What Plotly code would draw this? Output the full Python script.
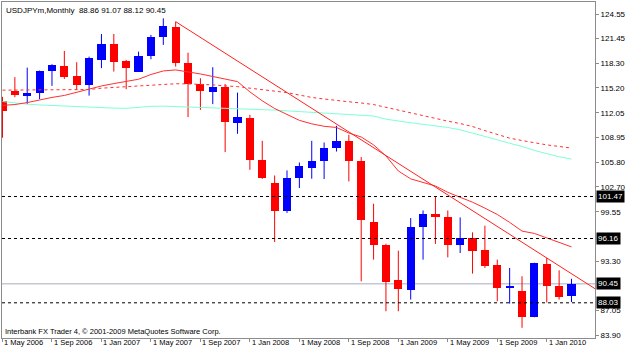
import plotly.graph_objects as go
import pandas as pd

# ---------------- data ----------------
months = pd.date_range("2006-05-01", periods=47, freq="MS")

opens = [113.57, 114.87, 114.20, 114.53, 117.35, 118.00, 116.72, 115.59, 118.74, 120.72,
         118.62, 117.27, 119.28, 121.61, 122.95, 118.40, 115.71, 114.66, 115.30, 110.75,
         111.38, 106.12, 103.17, 99.59, 103.80, 105.14, 105.90, 107.59, 108.43, 105.99,
         98.20, 95.38, 90.87, 89.61, 97.57, 99.30, 98.88, 95.38, 96.23, 94.75,
         92.86, 89.95, 89.49, 86.26, 92.95, 90.21, 88.86]
highs = [114.07, 116.56, 117.77, 117.40, 118.20, 119.88, 118.45, 119.16, 122.02, 122.02,
         118.74, 119.79, 121.90, 124.00, 123.58, 119.66, 116.43, 117.82, 115.71, 114.61,
         111.80, 108.51, 104.13, 104.77, 105.78, 108.51, 108.30, 110.41, 109.27, 106.46,
         100.56, 95.50, 94.62, 98.75, 99.71, 101.41, 99.71, 98.83, 96.94, 97.78,
         93.49, 92.44, 91.38, 93.10, 93.70, 92.14, 91.07]
lows = [108.90, 114.03, 113.15, 113.78, 115.46, 116.34, 114.95, 114.23, 117.70, 117.27,
        115.04, 117.27, 118.83, 120.64, 117.90, 111.51, 112.43, 113.15, 107.09, 109.40,
        104.85, 103.70, 95.72, 99.40, 102.54, 103.72, 103.68, 107.16, 103.38, 90.75,
        93.49, 86.96, 86.96, 88.44, 93.49, 95.48, 93.78, 94.33, 91.72, 92.44,
        88.22, 87.93, 84.87, 86.20, 88.07, 88.44, 88.12]
closes = [112.30, 114.32, 114.53, 117.35, 118.11, 116.63, 115.59, 118.96, 120.72, 118.53,
          117.69, 119.28, 121.68, 123.03, 118.40, 115.71, 114.83, 115.30, 110.95, 111.58,
          106.12, 103.80, 99.67, 103.80, 105.36, 105.99, 107.59, 108.43, 105.90, 98.45,
          95.30, 90.62, 89.79, 97.62, 99.26, 98.83, 95.38, 96.23, 94.54, 92.73,
          89.92, 90.10, 86.26, 93.07, 90.12, 88.73, 90.45]

ma_fast = [113.00, 113.10, 113.35, 113.70, 114.00, 114.25, 114.65, 115.00, 115.45, 115.75,
           116.00, 116.30, 116.90, 117.35, 117.48, 117.27, 116.97, 116.65, 116.30, 116.00,
           114.70, 113.57, 112.60, 111.80, 111.10, 110.66, 110.35, 110.20, 109.50, 109.00,
           108.00, 106.60, 104.70, 103.70, 103.25, 102.80, 102.00, 101.40, 100.75, 100.00,
           99.20, 98.20, 97.10, 96.80, 96.20, 95.60, 95.10]
ma_dashed = [114.92, 114.92, 114.92, 114.92, 114.92, 114.92, 114.92, 115.00, 115.17, 115.27,
             115.37, 115.48, 115.59, 115.71, 115.73, 115.71, 115.66, 115.59, 115.46, 115.37,
             115.17, 115.00, 114.87, 114.61, 114.30, 114.00, 113.80, 113.60, 113.45, 113.30,
             113.10, 112.75, 112.40, 112.00, 111.70, 111.30, 111.00, 110.70, 110.32, 109.80,
             109.30, 108.85, 108.55, 108.25, 108.00, 107.80, 107.59]
ma_aqua = [113.48, 113.30, 113.15, 113.05, 112.97, 112.90, 112.80, 112.75, 112.70, 112.65,
           112.62, 112.75, 112.87, 112.90, 112.85, 112.80, 112.75, 112.65, 112.60, 112.55,
           112.50, 112.45, 112.40, 112.30, 112.20, 112.12, 112.05, 111.95, 111.85, 111.75,
           111.65, 111.25, 111.00, 110.80, 110.60, 110.40, 110.20, 109.90, 109.50, 109.10,
           108.65, 108.20, 107.80, 107.30, 106.90, 106.50, 106.20]

trend_bars = [14, 44]
trend_prices = [123.58, 93.70]

levels_dotted = [101.47, 96.16, 88.03]
bid_level = 90.45

ytick_vals = [124.55, 121.45, 118.30, 115.20, 112.05, 108.95, 105.80, 102.70, 99.55, 93.30, 87.05, 83.90]

title_text = "USDJPYm,Monthly  88.86 91.07 88.12 90.45"
footer_text = "Interbank FX Trader 4, \u00a9 2001-2009 MetaQuotes Software Corp."

# ---------------- figure ----------------
n = len(closes)
idx = list(range(n))
X0, X1 = -0.04, 47.9
Y0, Y1 = 83.58, 126.067

RED = "#ff0000"
BLUE = "#0000ff"
FONT = "Liberation Sans"

fig = go.Figure()

# wicks
for color, cond in ((RED, lambda o, c: c < o), (BLUE, lambda o, c: c >= o)):
    wx, wy = [], []
    for i in idx:
        if cond(opens[i], closes[i]):
            wx += [i, i, None]
            wy += [lows[i], highs[i], None]
    fig.add_trace(go.Scatter(x=wx, y=wy, mode="lines", line=dict(color=color, width=1),
                             hoverinfo="skip", showlegend=False))

# bodies
for color, cond in ((RED, lambda o, c: c < o), (BLUE, lambda o, c: c >= o)):
    bx, bb, bh = [], [], []
    for i in idx:
        if cond(opens[i], closes[i]):
            lo, hi = min(opens[i], closes[i]), max(opens[i], closes[i])
            bx.append(i)
            bb.append(lo)
            bh.append(max(hi - lo, 0.12))
    fig.add_trace(go.Bar(x=bx, y=bh, base=bb, width=0.66, marker=dict(color=color, line=dict(width=0)),
                         hoverinfo="skip", showlegend=False))

# moving averages
fig.add_trace(go.Scatter(x=idx, y=ma_aqua, mode="lines", line=dict(color="#7fffd4", width=1),
                         hoverinfo="skip", showlegend=False))
fig.add_trace(go.Scatter(x=idx, y=ma_dashed, mode="lines",
                         line=dict(color="#ff3030", width=1, dash="3px,3px"),
                         hoverinfo="skip", showlegend=False))
fig.add_trace(go.Scatter(x=idx, y=ma_fast, mode="lines", line=dict(color="#ff3030", width=1),
                         hoverinfo="skip", showlegend=False))

# trend line (ray from first anchor through second to the right edge)
slope = (trend_prices[1] - trend_prices[0]) / (trend_bars[1] - trend_bars[0])
t_end = trend_prices[1] + slope * (X1 - trend_bars[1])
fig.add_trace(go.Scatter(x=[trend_bars[0], trend_bars[1], X1], y=[trend_prices[0], trend_prices[1], t_end],
                         mode="lines", line=dict(color="#ff2020", width=1),
                         hoverinfo="skip", showlegend=False, cliponaxis=True))

# horizontal levels
fig.add_hline(y=bid_level, line=dict(color="#c4c8d4", width=1.5), layer="below")
for lv in levels_dotted:
    fig.add_hline(y=lv, line=dict(color="#000000", width=1, dash="3px,3px"))

# level labels (black boxes)
for lv in levels_dotted + [bid_level]:
    fig.add_annotation(x=1, xref="paper", y=lv, yref="y", xanchor="left", xshift=1,
                       text=f"{lv:.2f}", showarrow=False, bgcolor="#000000",
                       font=dict(color="#ffffff", size=8, family=FONT), borderpad=1)

# title and footer
fig.add_annotation(x=0, xref="paper", y=1, yref="paper", xanchor="left", yanchor="top",
                   xshift=2, yshift=-2, text=title_text, showarrow=False,
                   font=dict(color="#000000", size=8, family=FONT))
fig.add_annotation(x=0, xref="paper", y=0, yref="paper", xanchor="left", yanchor="bottom",
                   xshift=1, yshift=0, text=footer_text, showarrow=False,
                   font=dict(color="#000000", size=7.5, family=FONT))

# date labels, left-aligned just right of each tick
tick_idx = list(range(0, n, 4))
tick_txt = [f"1 {months[i]:%b %Y}" for i in tick_idx]
for ti, tt in zip(tick_idx, tick_txt):
    fig.add_annotation(x=ti, xref="x", y=0, yref="paper", xanchor="left", yanchor="top",
                       xshift=1, yshift=1, text=tt, showarrow=False, borderpad=0,
                       font=dict(color="#000000", size=7.5, family=FONT))

fig.update_layout(
    width=625, height=350,
    margin=dict(l=2, r=30, t=2, b=12),
    paper_bgcolor="#ffffff", plot_bgcolor="#ffffff",
    barmode="overlay", bargap=0,
    showlegend=False,
    font=dict(family=FONT, size=8, color="#000000"),
    xaxis=dict(range=[X0, X1], showgrid=False, zeroline=False, automargin=False,
               showline=True, linecolor="#8c8c8c", linewidth=1, mirror=True,
               tickmode="array", tickvals=tick_idx, showticklabels=False,
               ticks="outside", ticklen=3, tickcolor="#8c8c8c"),
    yaxis=dict(range=[Y0, Y1], side="right", showgrid=False, zeroline=False, automargin=False,
               showline=True, linecolor="#8c8c8c", linewidth=1, mirror=True,
               tickmode="array", tickvals=ytick_vals, ticktext=[f"{v:.2f}" for v in ytick_vals],
               ticks="outside", ticklen=3, tickcolor="#8c8c8c",
               tickfont=dict(size=8, family=FONT, color="#000000")),
)

fig.write_html("out.html")
